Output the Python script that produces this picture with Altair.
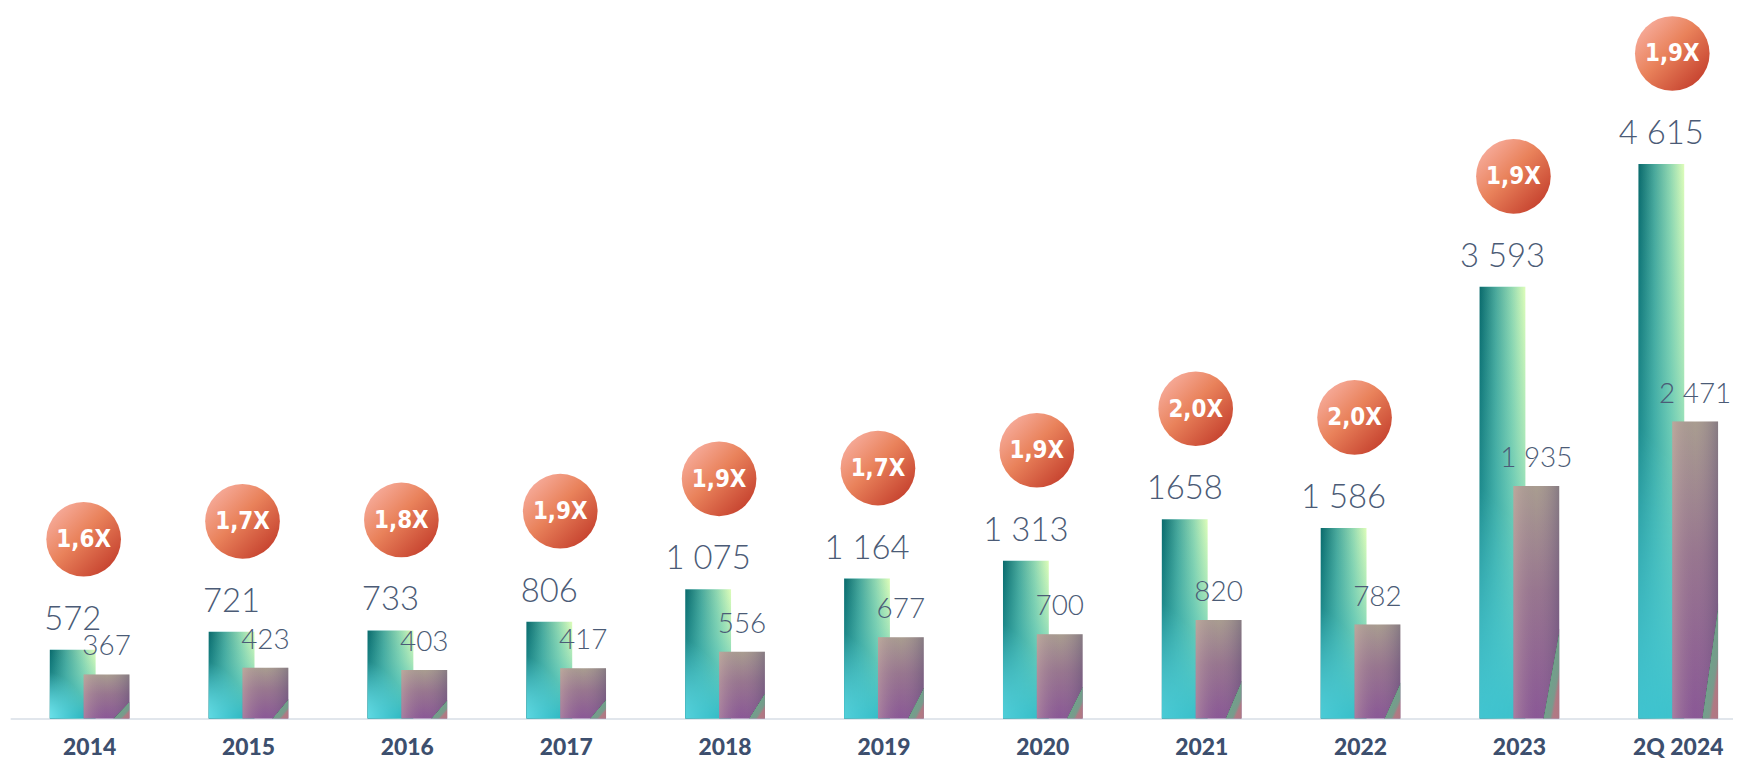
import altair as alt
import pandas as pd

categories = ["2014", "2015", "2016", "2017", "2018", "2019", "2020", "2021", "2022", "2023", "2Q 2024"]
teal_values = [572, 721, 733, 806, 1075, 1164, 1313, 1658, 1586, 3593, 4615]
purple_values = [367, 423, 403, 417, 556, 677, 700, 820, 782, 1935, 2471]
teal_labels = ["572", "721", "733", "806", "1 075", "1 164", "1 313", "1658", "1 586", "3 593", "4 615"]
purple_labels = ["367", "423", "403", "417", "556", "677", "700", "820", "782", "1 935", "2 471"]
ratios = ["1,6X", "1,7X", "1,8X", "1,9X", "1,9X", "1,7X", "1,9X", "2,0X", "2,0X", "1,9X", "1,9X"]

df = pd.DataFrame({
    "cat": categories,
    "teal": teal_values,
    "purple": purple_values,
    "tl": teal_labels,
    "pl": purple_labels,
    "ratio": ratios,
})

W, H = 1733, 712
x = alt.X("cat:N", sort=categories,
          scale=alt.Scale(range=[2.2, 1757.8], paddingInner=0, paddingOuter=0),
          axis=alt.Axis(title=None, ticks=False, domainColor="#e1e6ec", domainWidth=2,
                        labelFont="Lato", labelFontWeight=900, labelFontSize=23,
                        labelColor="#3d4f6e", labelPadding=18, labelAngle=0))
yscale = alt.Scale(domain=[0, 5899], nice=False, zero=True)

def lin(stops, x1=0, y1=0, x2=1, y2=0):
    return {"gradient": "linear", "x1": x1, "y1": y1, "x2": x2, "y2": y2,
            "stops": [{"offset": o, "color": c} for o, c in stops]}

def rad(stops, cx, cy, r):
    return {"gradient": "radial", "x1": cx, "y1": cy, "r1": 0, "x2": cx, "y2": cy, "r2": r,
            "stops": [{"offset": o, "color": c} for o, c in stops]}

base = alt.Chart(df)
BW = 46
TOFF, POFF = -17, 17

teal_base = base.mark_bar(width=BW, xOffset=TOFF, fill=lin(
    [(0, "#0a6a6c"), (0.35, "#4aa89b"), (0.7, "#92d8b1"), (1, "#defdb9")])).encode(
    x=x, y=alt.Y("teal:Q", scale=yscale, axis=None))
teal_ov1 = base.mark_bar(width=BW, xOffset=TOFF, fill=lin(
    [(0, "rgba(40,185,190,0)"), (0.35, "rgba(60,185,185,0.3)"), (1, "rgba(30,175,190,0.95)")],
    0, 0, 0, 1)).encode(x=x, y=alt.Y("teal:Q", scale=yscale))
teal_ov2 = base.mark_bar(width=BW, xOffset=TOFF, fill=rad(
    [(0, "rgba(135,245,252,0.95)"), (1, "rgba(135,245,252,0)")], 0, 1, 0.7)).encode(
    x=x, y=alt.Y("teal:Q", scale=yscale))

purple_base = base.mark_bar(width=BW, xOffset=POFF, fill=lin(
    [(0, "#a99d90"), (0.45, "#98768f"), (1, "#8a5896")], 0, 0, 0, 1)).encode(
    x=x, y=alt.Y("purple:Q", scale=yscale))
purple_ov = base.mark_bar(width=BW, xOffset=POFF, fill=lin(
    [(0, "rgba(215,185,175,0.4)"), (0.5, "rgba(150,120,150,0)"), (1, "rgba(70,60,105,0.35)")])).encode(
    x=x, y=alt.Y("purple:Q", scale=yscale))
purple_streak = base.mark_bar(width=BW, xOffset=POFF, fill=lin(
    [(0, "rgba(120,160,135,0)"), (0.02, "rgba(80,110,100,0.6)"), (0.08, "rgba(110,168,138,0.9)"),
     (0.7, "rgba(120,165,140,0.85)"), (1, "rgba(190,130,130,0.8)")],
    0.8, 0.837, 0.914, 0.942)).encode(
    x=x, y=alt.Y("purple:Q", scale=yscale))

teal_text = base.mark_text(xOffset=TOFF, dy=-20, baseline="alphabetic", align="center",
                           font="Lato", fontWeight=300, fontSize=33, color="#4b5b76").encode(
    x=x, y=alt.Y("teal:Q", scale=yscale), text="tl:N")
purple_text = base.mark_text(xOffset=POFF, dy=-19, baseline="alphabetic", align="center",
                             font="Lato", fontWeight=300, fontSize=28, color="#4b5b76").encode(
    x=x, y=alt.Y("purple:Q", scale=yscale), text="pl:N")

circles = base.mark_circle(size=5625, opacity=1, fillOpacity=1, xOffset=-6, yOffset=-111,
                           fill=lin([(0, "#f8b0a2"), (0.45, "#e9825b"), (1, "#c23b2a")], 0, 0.15, 0.85, 1)).encode(
    x=x, y=alt.Y("teal:Q", scale=yscale))
circle_text = base.mark_text(xOffset=-6, yOffset=-110, baseline="middle", align="center",
                             font="Liberation Sans Narrow, DejaVu Sans Condensed, sans-serif",
                             fontWeight="bold", fontSize=24, color="white").encode(
    x=x, y=alt.Y("teal:Q", scale=yscale), text="ratio:N")

chart = alt.layer(teal_base, teal_ov1, teal_ov2, purple_base, purple_ov, purple_streak,
                  teal_text, purple_text, circles, circle_text).properties(
    width=W, height=H,
    autosize=alt.AutoSizeParams(type="none"),
    padding={"left": 0, "top": 0, "right": 0, "bottom": 48},
).configure_view(stroke=None)

chart.save("out.html", embed_options={"renderer": "svg", "actions": False})
